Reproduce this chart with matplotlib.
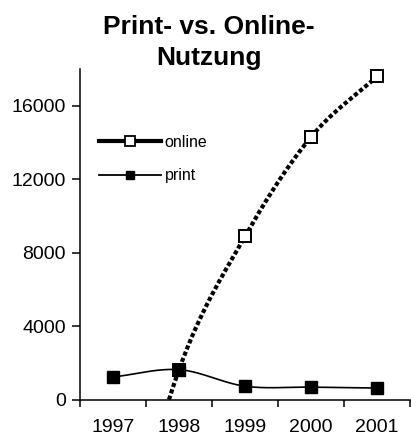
import numpy as np
import matplotlib
matplotlib.use("Agg")
import matplotlib.pyplot as plt
from matplotlib.lines import Line2D

years = ["1997", "1998", "1999", "2000", "2001"]
# online 1997 lies below the visible range (clipped at 0 in the original)
online = [-11000, 1650, 8900, 14300, 17600]
print_vals = [1250, 1650, 750, 700, 650]
yticks = [0, 4000, 8000, 12000, 16000]
title_lines = ["Print- vs. Online-", "Nutzung"]

plt.rcParams['font.family'] = ['Liberation Sans', 'DejaVu Sans']


def smooth(y, n=40):
    y = np.asarray(y, float)
    x = np.arange(len(y), dtype=float)
    m = np.empty_like(y)
    m[1:-1] = (y[2:] - y[:-2]) / 2
    m[0] = y[1] - y[0]
    m[-1] = y[-1] - y[-2]
    xs, ys = [], []
    for i in range(len(y) - 1):
        t = np.linspace(0, 1, n, endpoint=(i == len(y) - 2))
        h00 = 2 * t**3 - 3 * t**2 + 1
        h10 = t**3 - 2 * t**2 + t
        h01 = -2 * t**3 + 3 * t**2
        h11 = t**3 - t**2
        xs.append(x[i] + t)
        ys.append(h00 * y[i] + h10 * m[i] + h01 * y[i + 1] + h11 * m[i + 1])
    return np.concatenate(xs), np.concatenate(ys)


fig = plt.figure(figsize=(4.11, 4.37), dpi=100)
ax = fig.add_axes([80 / 411, 1 - 400 / 437, 330 / 411, 331 / 437])

x = np.arange(len(years))
xo, yo = smooth(online)
ax.plot(xo, yo, color='black', lw=3.0, linestyle=(0, (1.0, 0.6)),
        solid_capstyle='butt', dash_capstyle='butt', zorder=2)
ax.plot(x, online, linestyle='none', marker='s', ms=8.3, mfc='white',
        mec='black', mew=1.4, zorder=3)
xp, yp = smooth(print_vals)
ax.plot(xp, yp, color='black', lw=1.2, zorder=4)
ax.plot(x, print_vals, linestyle='none', marker='s', ms=9, color='black',
        zorder=5)

ax.set_xlim(-0.5, len(years) - 0.5)
ax.set_ylim(0, 18000)
ax.set_xticks(np.arange(len(years) + 1) - 0.5)
ax.set_xticklabels([])
ax.set_xticks(x, minor=True)
ax.set_xticklabels(years, minor=True, fontsize=14)
ax.tick_params(axis='x', which='minor', length=0, pad=14)
ax.tick_params(axis='x', which='major', length=5, width=1.1, direction='out')
ax.set_yticks(yticks)
ax.set_yticklabels([str(v) for v in yticks], fontsize=14)
ax.tick_params(axis='y', length=6, width=1.1, direction='out', pad=4)
for s in ['top', 'right']:
    ax.spines[s].set_visible(False)
for s in ['left', 'bottom']:
    ax.spines[s].set_linewidth(1.1)

handles = [
    Line2D([], [], color='black', lw=3, marker='s', ms=7.5, mfc='white',
           mec='black', mew=1.3),
    Line2D([], [], color='black', lw=1.3, marker='s', ms=6),
]
ax.legend(handles, ['online', 'print'], loc='upper left', frameon=False,
          bbox_to_anchor=(99 / 411, 1 - 135 / 437),
          bbox_transform=fig.transFigure, borderpad=0, borderaxespad=0,
          handlelength=3.9, handletextpad=0.2, labelspacing=1.15,
          fontsize=11.5)

fig.text(209 / 411, 1 - 33.5 / 437, title_lines[0], ha='center',
         va='baseline', fontsize=19, fontweight='bold')
fig.text(209 / 411, 1 - 65 / 437, title_lines[1], ha='center',
         va='baseline', fontsize=19, fontweight='bold')

fig.savefig('out.png', dpi=100)
